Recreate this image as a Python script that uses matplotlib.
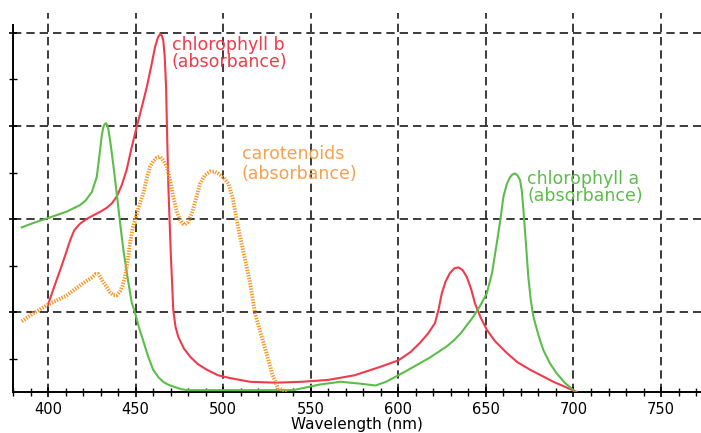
import matplotlib.pyplot as plt
import numpy as np
from matplotlib.ticker import MultipleLocator

# absorbance spectra (arbitrary units, gridlines at 1..4)
chl_a_nm = [385, 392, 400, 410.7, 418.3, 421.5, 425, 427.8, 429.7, 430.7, 431.6, 432.4, 433.1,
            433.8, 434.4, 435.4, 436.4, 437.8, 439.2, 441, 443, 445.5, 447.8, 449.7, 452, 454.2,
            457, 460, 463, 465.7, 468.5, 471.4, 476, 480, 500, 520, 540, 555, 567, 578, 587,
            593, 598, 603, 608.6, 618, 627.6, 632, 636, 642.8, 646.5, 650.5, 653.5, 656.2, 658.3,
            660, 662, 663.8, 665.2, 666.6, 668, 669.5, 670.5, 671.4, 672.8, 674.2, 675.6, 677.1,
            680, 682.8, 686.5, 690.4, 695, 700]
chl_a_abs = [1.91, 1.96, 2.01, 2.08, 2.15, 2.20, 2.29, 2.45, 2.74, 2.90, 2.99, 3.02, 3.03,
             3.01, 2.97, 2.85, 2.71, 2.50, 2.28, 1.98, 1.67, 1.36, 1.10, 0.99, 0.83, 0.70,
             0.53, 0.38, 0.30, 0.25, 0.22, 0.20, 0.17, 0.16, 0.16, 0.16, 0.16, 0.22, 0.25, 0.23, 0.21,
             0.25, 0.30, 0.35, 0.41, 0.51, 0.63, 0.70, 0.78, 0.95, 1.06, 1.20, 1.42, 1.74, 2.00,
             2.24, 2.38, 2.45, 2.48, 2.49, 2.47, 2.42, 2.30, 2.10, 1.75, 1.38, 1.13, 0.95,
             0.75, 0.59, 0.45, 0.34, 0.24, 0.16]

chl_b_nm = [400.2, 403.5, 406.9, 410, 412.6, 415, 418.3, 422, 425.9, 430, 433.5, 436.5, 439.2,
            442, 444.9, 447.5, 450.6, 453.5, 456.4, 459, 461.1, 462.7, 464, 465, 465.8, 466.6,
            467.4, 468, 468.7, 470, 471.5, 472.8, 474.4, 477.5, 481.1, 485.5, 490.6, 497,
            503.9, 515.3, 530, 545, 560, 575, 589.6, 600, 607, 612.4, 617, 620.9, 623, 624.8,
            627, 629.5, 632, 634.3, 636.7, 639, 641.5, 643.8, 647, 650.5, 655, 661.9, 668,
            675.2, 688.5, 701.9]
chl_b_abs = [1.09, 1.27, 1.45, 1.62, 1.77, 1.88, 1.95, 2.00, 2.04, 2.08, 2.12, 2.17, 2.24,
             2.36, 2.53, 2.75, 2.99, 3.20, 3.42, 3.65, 3.85, 3.95, 3.99, 3.97, 3.92, 3.75,
             3.42, 2.90, 2.35, 1.67, 1.02, 0.84, 0.73, 0.61, 0.52, 0.44, 0.38, 0.32,
             0.29, 0.25, 0.24, 0.25, 0.27, 0.32, 0.41, 0.48, 0.57, 0.67, 0.77, 0.88, 1.03, 1.20,
             1.33, 1.42, 1.47, 1.48, 1.45, 1.38, 1.25, 1.09, 0.94, 0.81, 0.69, 0.56, 0.46,
             0.38, 0.25, 0.14]

carot_nm = [385, 392, 400, 410, 420, 425, 427.4, 428.6, 429.7, 431.5, 433.5, 435.5, 437.3,
            439.2, 441.1, 442.5, 444, 445.5, 446.8, 448.3, 449.7, 452, 454.4, 456.3, 458.2,
            460, 462.1, 464, 465.8, 467.8, 469.7, 471.5, 473.5, 475.4, 477, 478.2, 480, 482.1,
            484.5, 486.8, 489.5, 492.5, 495, 497.2, 500, 503, 505.5, 507.7, 510, 512.5, 515.3,
            518.2, 521, 523.9, 526, 527.9, 531.3, 537]
carot_abs = [0.90, 0.99, 1.08, 1.17, 1.31, 1.37, 1.41, 1.41, 1.38, 1.32, 1.27, 1.21, 1.18,
             1.18, 1.22, 1.28, 1.38, 1.55, 1.74, 1.90, 1.99, 2.14, 2.28, 2.43, 2.56,
             2.62, 2.66, 2.67, 2.63, 2.56, 2.42, 2.24, 2.08, 1.99, 1.95, 1.94, 1.97, 2.06,
             2.22, 2.38, 2.47, 2.51, 2.51, 2.49, 2.45, 2.38, 2.22, 1.99, 1.78, 1.56, 1.32,
             0.98, 0.80, 0.61, 0.47, 0.34, 0.18, 0.14]

fig = plt.figure(figsize=(7.01, 4.33), dpi=100)
ax = fig.add_axes([13 / 701, 41 / 433, 688 / 701, 379 / 433])

ax.plot(chl_b_nm, chl_b_abs, color="#ef3b4b", lw=1.5, zorder=3)
ax.plot(chl_a_nm, chl_a_abs, color="#5dbd4a", lw=1.5, zorder=3)
ax.plot(carot_nm, carot_abs, color="#f7962b", lw=2.8, ls=(0, (0.35, 0.35)), zorder=4)

ax.text(470.5, 3.97, "chlorophyll b\n(absorbance)", color="#ef3b4b", fontsize=12.5,
        va="top", linespacing=0.95)
ax.text(510.5, 2.80, "carotenoids\n(absorbance)", color="#f7a050", fontsize=12.5,
        va="top", linespacing=1.2)
ax.text(673.5, 2.53, "chlorophyll a\n(absorbance)", color="#5dbd4a", fontsize=12.5,
        va="top", linespacing=0.95)

ax.set_xlim(380, 772.8)
ax.set_ylim(0.14, 4.215)
ax.xaxis.set_major_locator(MultipleLocator(50))
ax.xaxis.set_minor_locator(MultipleLocator(10))
ax.yaxis.set_major_locator(MultipleLocator(1))
ax.yaxis.set_minor_locator(MultipleLocator(0.5))
ax.set_yticklabels([])
ax.tick_params(direction="inout", length=7, width=1.2, labelsize=10.5)
ax.tick_params(which="minor", direction="inout", length=6, width=1.0)
ax.tick_params(axis="y", which="both", length=6)
ax.grid(True, which="major", color="#1a1a1a", ls=(0, (5, 3)), lw=1.2)

for s in ["top", "right"]:
    ax.spines[s].set_visible(False)
ax.spines["left"].set_bounds(0.14, 4.086)
ax.spines["left"].set_linewidth(1.4)
ax.spines["bottom"].set_linewidth(1.4)

ax.set_xlabel("Wavelength (nm)", fontsize=11, labelpad=0.5)

fig.savefig("out.png")
